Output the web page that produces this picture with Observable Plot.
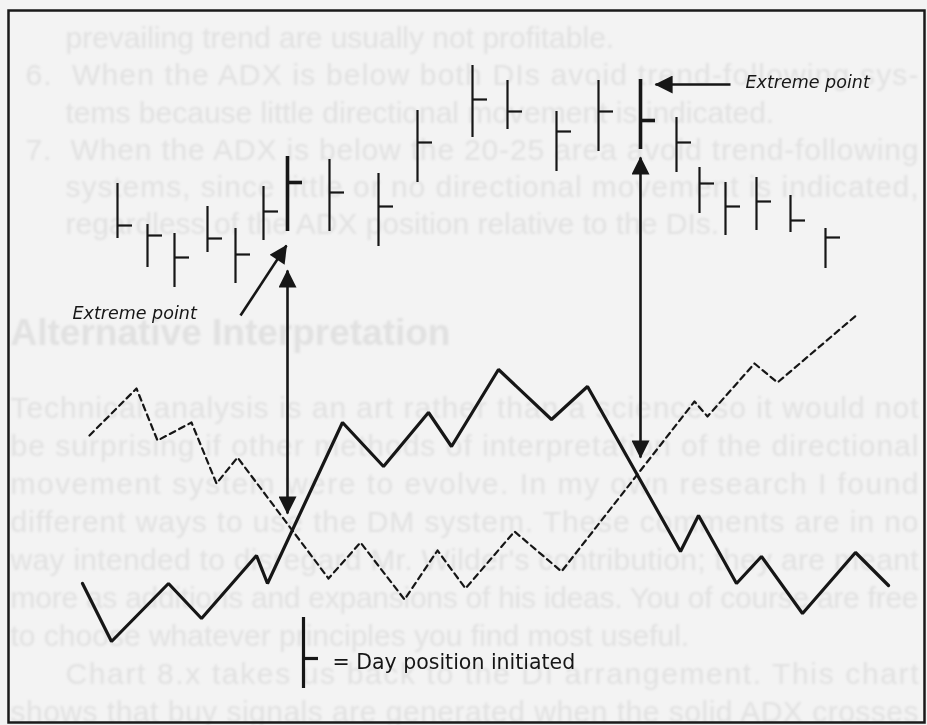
<!DOCTYPE html>
<html>
<head>
<meta charset="utf-8">
<script src="https://cdn.jsdelivr.net/npm/d3@7"></script>
<script src="https://cdn.jsdelivr.net/npm/@observablehq/plot@0.6"></script>
<style>
  html, body { margin: 0; padding: 0; background: #f3f3f3; }
  #chart { width: 927px; height: 725px; overflow: hidden; }
</style>
</head>
<body>
<div id="chart"></div>
<script>
// ---- Price bars (x position, high, low, close) ----
const barX     = [117, 147, 174, 207, 235, 263, 287, 329, 378, 417, 472, 507, 556, 598, 640, 676, 699, 725, 756, 790, 825];
const barHigh  = [542, 501, 492, 519, 497, 539, 569, 566, 552, 615, 660, 645, 614, 645, 646, 608, 558, 543, 548, 530, 497];
const barLow   = [487, 458, 438, 473, 442, 485, 494, 494, 479, 543, 588, 596, 554, 574, 576, 553, 512, 490, 495, 493, 457];
const barClose = [500, 490, 468, 487, 471, 514, 543, 533, 519, 583, 626, 614, 594, 614, 605, 583, 542, 519, 524, 505, 488];
const extremeDays = [7, 15]; // 1-based day numbers of the extreme-point bars

// ---- Solid line (+DI) ----
const solidX = [82, 111, 168, 201, 256, 267, 342, 383, 428, 451, 498, 551, 587, 680, 698, 736, 761, 802, 855, 888];
const solidY = [142, 84, 142, 107, 170, 142, 303, 259, 313, 279, 356, 306, 339, 174, 210, 142, 169, 112, 173, 140];

// ---- Dashed line (-DI) ----
const dashX = [89, 136, 157, 191, 216, 237, 328, 360, 404, 437, 465, 514, 561, 694, 707, 754, 777, 858];
const dashY = [290, 337, 285, 303, 242, 268, 147, 183, 126, 175, 137, 194, 154, 324, 309, 362, 343, 412];

// ---- Annotation arrows ----
const arrowX1 = [287, 640, 240, 730];
const arrowY1 = [455, 568, 410, 641];
const arrowX2 = [287, 640, 286, 655];
const arrowY2 = [212, 268, 480, 641];
const arrowDouble = [true, true, false, false];

// ---- Labels ----
const labelText = ["Extreme point", "Extreme point"];
const labelX = [72, 745];
const labelY = [412, 643];
const legendText = "= Day position initiated";
const legendBar = {x: 303, high: 108, low: 37, close: 67};

// ---- Faint show-through text of the book page ----
const ghostListLines = [
  "prevailing trend are usually not profitable.",
  "6.  When the ADX is below both DIs avoid trend-following sys-",
  "tems because little directional movement is indicated.",
  "7.  When the ADX is below the 20-25 area avoid trend-following",
  "systems, since little or no directional movement is indicated,",
  "regardless of the ADX position relative to the DIs."
];
const ghostListJustify = [false, true, false, true, true, false];
const ghostListIndent = [true, false, true, false, true, true];
const ghostHeading = "Alternative Interpretation";
const ghostBodyLines = [
  "Technical analysis is an art rather than a science so it would not",
  "be surprising if other methods of interpretation of the directional",
  "movement system were to evolve. In my own research I found",
  "different ways to use the DM system. These comments are in no",
  "way intended to disregard Mr. Wilder's contribution; they are meant",
  "more as additions and expansions of his ideas. You of course are free",
  "to choose whatever principles you find most useful.",
  "Chart 8.x takes us back to the DI arrangement. This chart",
  "shows that buy signals are generated when the solid ADX crosses"
];
const ghostBodyJustify = [true, true, true, true, true, true, false, true, true];
const ghostBodyIndent = [false, false, false, false, false, false, false, true, false];

// ---- Build tables ----
const bars = barX.map((x, i) => ({day: i + 1, x, high: barHigh[i], low: barLow[i], close: barClose[i]}));
const normalBars = bars.filter(d => !extremeDays.includes(d.day));
const boldBars = bars.filter(d => extremeDays.includes(d.day));
const solid = solidX.map((x, i) => ({x, y: solidY[i]}));
const dashed = dashX.map((x, i) => ({x, y: dashY[i]}));
const arrows = arrowX1.map((x1, i) => ({x1, y1: arrowY1[i], x2: arrowX2[i], y2: arrowY2[i], double: arrowDouble[i]}));
const labels = labelText.map((t, i) => ({t, x: labelX[i], y: labelY[i]}));

const RIGHT = 918;
const ghostList = ghostListLines.map((t, i) => ({t, x: ghostListIndent[i] ? 65 : 25, y: 725 - (38 + i * 37.2), j: ghostListJustify[i]}));
const ghostBody = ghostBodyLines.map((t, i) => ({t, x: ghostBodyIndent[i] ? 65 : 10, y: 725 - (408 + i * 38.0), j: ghostBodyJustify[i]}));
const ghostHead = [{t: ghostHeading, x: 10, y: 725 - 333}];

const TICK = 15;
const ink = "#161616";
const ghostInk = "#e1e1e1";
const ghostFont = "Liberation Sans, Arial, sans-serif";

const chart = Plot.plot({
  width: 927,
  height: 725,
  margin: 0,
  style: {background: "#f3f3f3", overflow: "visible"},
  x: {domain: [0, 927], axis: null},
  y: {domain: [0, 725], axis: null},
  marks: [
    // show-through text
    Plot.text(ghostList, {x: "x", y: "y", text: "t", textAnchor: "start", fontSize: 30, fill: ghostInk, fontFamily: ghostFont, ariaDescription: "ghost"}),
    Plot.text(ghostBody, {x: "x", y: "y", text: "t", textAnchor: "start", fontSize: 30, fill: ghostInk, fontFamily: ghostFont, ariaDescription: "ghost2"}),
    Plot.text(ghostHead, {x: "x", y: "y", text: "t", textAnchor: "start", fontSize: 37, fontWeight: "bold", fill: ghostInk, fontFamily: ghostFont, ariaDescription: "ghost3"}),
    // frame
    Plot.frame({stroke: "#1a1a1a", strokeWidth: 2.5, insetLeft: 8, insetRight: 3, insetTop: 10, insetBottom: 3}),
    // price bars
    Plot.ruleX(normalBars, {x: "x", y1: "low", y2: "high", stroke: ink, strokeWidth: 2.2}),
    Plot.ruleY(normalBars, {y: "close", x1: "x", x2: d => d.x + TICK, stroke: ink, strokeWidth: 2.2}),
    Plot.ruleX(boldBars, {x: "x", y1: "low", y2: "high", stroke: ink, strokeWidth: 3.6}),
    Plot.ruleY(boldBars, {y: "close", x1: "x", x2: d => d.x + TICK, stroke: ink, strokeWidth: 3.6}),
    // DI lines
    Plot.line(dashed, {x: "x", y: "y", stroke: ink, strokeWidth: 2.2, strokeDasharray: "6,4.5"}),
    Plot.line(solid, {x: "x", y: "y", stroke: ink, strokeWidth: 3.2, strokeLinejoin: "miter"}),
    // arrows
    Plot.link(arrows, {x1: "x1", y1: "y1", x2: "x2", y2: "y2", stroke: ink, strokeWidth: 2.6}),
    // labels
    Plot.text(labels, {x: "x", y: "y", text: "t", textAnchor: "start", fontSize: 17.5, fontStyle: "italic", fill: ink, fontFamily: "DejaVu Sans, sans-serif"}),
    // legend
    Plot.ruleX([legendBar], {x: "x", y1: "low", y2: "high", stroke: ink, strokeWidth: 3.2}),
    Plot.ruleY([legendBar], {y: "close", x1: "x", x2: d => d.x + TICK, stroke: ink, strokeWidth: 3.2}),
    Plot.text([legendBar], {x: d => d.x + 29, y: d => d.close - 4, text: () => legendText, textAnchor: "start", fontSize: 20.5, fill: ink, fontFamily: "DejaVu Sans, sans-serif"})
  ]
});
document.getElementById("chart").appendChild(chart);

// filled triangular arrowheads
const svg = d3.select(chart);
const defs = svg.insert("defs", ":first-child");
defs.append("marker")
  .attr("id", "tri")
  .attr("viewBox", "0 0 10 10")
  .attr("refX", 9.5).attr("refY", 5)
  .attr("markerUnits", "userSpaceOnUse")
  .attr("markerWidth", 19).attr("markerHeight", 18)
  .attr("orient", "auto-start-reverse")
  .append("path").attr("d", "M0,0L10,5L0,10Z").attr("fill", ink);
svg.selectAll('g[aria-label="link"] path').each(function(i) {
  const idx = typeof i === "number" ? i : 0;
  const a = arrows[idx];
  d3.select(this).attr("marker-end", "url(#tri)");
  if (a && a.double) d3.select(this).attr("marker-start", "url(#tri)");
});

// justify the show-through text lines and soften them
function justify(desc, rows) {
  svg.selectAll(`g[aria-description="${desc}"] text`).each(function(i) {
    const r = rows[i];
    if (r && r.j) d3.select(this).attr("textLength", RIGHT - r.x).attr("lengthAdjust", "spacing");
  });
  svg.selectAll(`g[aria-description="${desc}"]`).style("filter", "blur(0.8px)");
}
justify("ghost", ghostList);
justify("ghost2", ghostBody);
justify("ghost3", ghostHead);
</script>
</body>
</html>
